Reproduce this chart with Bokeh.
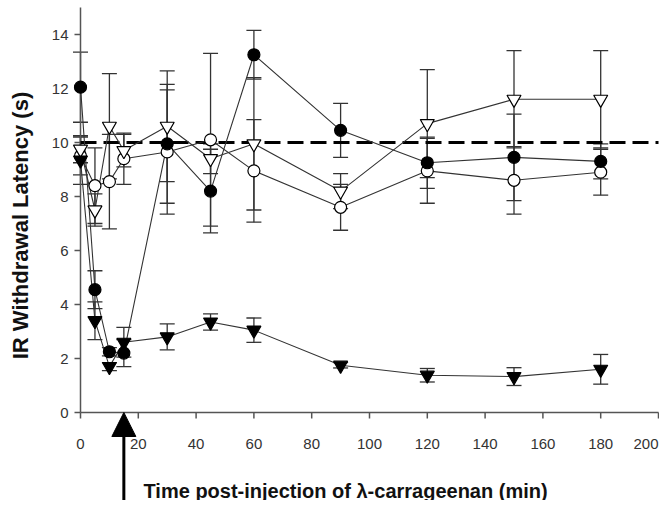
import math
from bokeh.plotting import figure
from bokeh.models import ColumnDataSource, Whisker, TeeHead, Arrow, NormalHead
from bokeh.core.properties import value
from bokeh.embed import file_html
from bokeh.resources import INLINE

# ---- data ----
time_min = [0, 5, 10, 15, 30, 45, 60, 90, 120, 150, 180]

filled_circle = [12.05, 4.55, 2.25, 2.2, 9.95, 8.2, 13.25, 10.45, 9.25, 9.45, 9.3]
filled_circle_err = [1.3, 0.7, 0.15, 0.5, 2.2, 1.55, 0.9, 1.0, 0.95, 1.6, 0.65]

open_circle = [9.5, 8.4, 8.55, 9.4, 9.65, 10.1, 8.95, 7.6, 8.95, 8.6, 8.9]
open_circle_err = [0.7, 1.4, 1.75, 0.95, 2.3, 3.2, 1.9, 0.85, 1.2, 1.25, 0.85]

open_tri = [9.75, 7.5, 10.6, 9.7, 10.6, 9.4, 9.95, 8.2, 10.7, 11.6, 11.6]
open_tri_err = [0.5, 0.6, 1.95, 0.6, 2.05, 0.55, 2.45, 0.65, 2.0, 1.8, 1.8]

filled_tri = [9.35, 3.4, 1.7, 2.6, 2.8, 3.35, 3.05, 1.75, 1.38, 1.33, 1.6]
filled_tri_err = [0.9, 0.7, 0.15, 0.55, 0.48, 0.3, 0.45, 0.1, 0.25, 0.33, 0.55]

x_ticks = list(range(0, 201, 20))
x_tick_labels = [str(t) for t in x_ticks]
y_ticks = list(range(0, 15, 2))
y_tick_labels = [str(t) for t in y_ticks]
y_axis_top = 15
baseline_value = 10
injection_time = 15
y_title = "IR Withdrawal Latency (s)"
x_title = "Time post-injection of \u03bb-carrageenan (min)"

FONT = "Liberation Sans"
INK = "#333333"
AXIS = "#555555"

# ---- geometry: the frame fills the whole figure; axes are drawn in data space ----
W, H = 659, 500
X0_PX, XPX = 80, 2.89        # pixel of x=0, pixels per minute
Y0_PX, YPX = 412, 27.0       # pixel of y=0, pixels per second
x_range = (-X0_PX / XPX, (W - X0_PX) / XPX)
y_range = (-(H - Y0_PX) / YPX, Y0_PX / YPX)

def dx(px):
    return px / XPX

def dy(px):
    return px / YPX

p = figure(width=W, height=H, x_range=x_range, y_range=y_range,
           output_backend="svg", toolbar_location=None,
           min_border_left=0, min_border_right=0, min_border_top=0, min_border_bottom=0)
p.axis.visible = False
p.grid.visible = False
p.outline_line_color = None

# y axis
p.segment(x0=[0], y0=[0], x1=[0], y1=[y_axis_top], line_color=AXIS, line_width=1.5)
p.segment(x0=[0] * len(y_ticks), y0=y_ticks, x1=[-dx(6)] * len(y_ticks), y1=y_ticks,
          line_color=AXIS, line_width=1.5)
p.text(x=[-dx(12)] * len(y_ticks), y=y_ticks, text=y_tick_labels,
       text_font=value(FONT), text_font_size="15px", text_color=INK,
       text_align="right", text_baseline="middle")
p.text(x=[-dx(60)], y=[dy(187)], text=[y_title], angle=math.pi / 2,
       text_font=value(FONT), text_font_style="bold", text_font_size="22px",
       text_color="#111111", text_align="center", text_baseline="middle")

# x axis
p.segment(x0=[x_ticks[0]], y0=[0], x1=[x_ticks[-1]], y1=[0], line_color=AXIS, line_width=1.5)
p.segment(x0=x_ticks, y0=[0] * len(x_ticks), x1=x_ticks, y1=[-dy(6)] * len(x_ticks),
          line_color=AXIS, line_width=1.5)
x_align = ["center"] * (len(x_ticks) - 1) + ["right"]
x_src = ColumnDataSource(dict(x=x_ticks, y=[-dy(31)] * len(x_ticks), t=x_tick_labels, a=x_align))
p.text(x="x", y="y", text="t", source=x_src, text_align="a",
       text_font=value(FONT), text_font_size="15px", text_color=INK, text_baseline="middle")

# dashed reference line at 10 s
p.segment(x0=[x_ticks[0]], y0=[baseline_value], x1=[x_ticks[-1]], y1=[baseline_value],
          line_color="black", line_width=3, line_dash="16 7")

series = [
    (open_circle, open_circle_err, "circle", "white", 12),
    (open_tri, open_tri_err, "inverted_triangle", "white", 14),
    (filled_circle, filled_circle_err, "circle", "black", 12),
    (filled_tri, filled_tri_err, "inverted_triangle", "black", 14),
]

for vals, errs, marker, fill, size in series:
    src = ColumnDataSource(dict(
        x=time_min, y=vals,
        upper=[v + e for v, e in zip(vals, errs)],
        lower=[v - e for v, e in zip(vals, errs)],
    ))
    p.add_layout(Whisker(source=src, base="x", upper="upper", lower="lower",
                         line_color=INK, line_width=1.3,
                         upper_head=TeeHead(size=15, line_color=INK, line_width=1.3),
                         lower_head=TeeHead(size=15, line_color=INK, line_width=1.3)))
    p.line("x", "y", source=src, line_color=INK, line_width=1.1)

for vals, errs, marker, fill, size in series:
    p.scatter(x=time_min, y=vals, marker=marker, size=size,
              fill_color=fill, line_color="black", line_width=1.2)

# injection arrow below the axis
p.add_layout(Arrow(x_start=injection_time, y_start=y_range[0], x_end=injection_time, y_end=0,
                   line_color="black", line_width=3,
                   end=NormalHead(size=24, fill_color="black", line_color="black")))

# x title
p.text(x=[dx(63)], y=[-dy(78)], text=[x_title],
       text_font=value(FONT), text_font_style="bold", text_font_size="20px",
       text_color="#111111", text_align="left", text_baseline="middle")

open("out.html", "w").write(file_html(p, INLINE))
